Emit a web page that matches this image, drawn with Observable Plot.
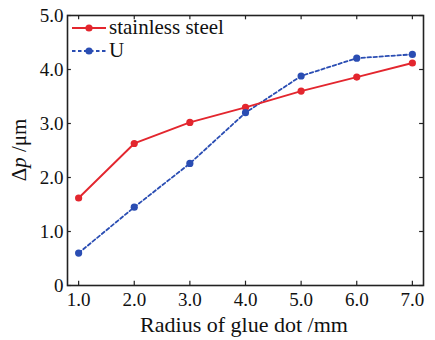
<!DOCTYPE html>
<html><head><meta charset="utf-8">
<script src="https://cdn.jsdelivr.net/npm/d3@7"></script>
<script src="https://cdn.jsdelivr.net/npm/@observablehq/plot@0.6"></script>
<style>
body{margin:0;background:#fff;}
#wrap{position:relative;width:435px;height:340px;font-family:"Liberation Serif",serif;}
#legend{position:absolute;left:72px;top:16px;font-size:21px;color:#111;line-height:23px;}
#legend div{display:flex;align-items:center;}
#legend svg{margin-right:3px;}
</style></head>
<body><div id="wrap"><div id="legend"></div></div>
<script>
const radius = [1.0, 2.0, 3.0, 4.0, 5.0, 6.0, 7.0];
const stainless = [1.62, 2.63, 3.02, 3.30, 3.60, 3.86, 4.12];
const uSeries = [0.60, 1.45, 2.26, 3.20, 3.88, 4.21, 4.28];
const seriesNames = ["stainless steel", "U"];
const xTicks = [1, 2, 3, 4, 5, 6, 7];
const yTicks = [0, 1, 2, 3, 4, 5];
const colors = ["#e3262e", "#2a4db3"];

const data = [];
radius.forEach((r, i) => {
  data.push({series: seriesNames[0], x: r, y: stainless[i]});
  data.push({series: seriesNames[1], x: r, y: uSeries[i]});
});
const xDom = [0.8, 7.2], yDom = [0, 5];
const fmtY = d => d === 0 ? "0" : d.toFixed(1);

const plot = Plot.plot({
  width: 435, height: 340,
  marginLeft: 67, marginRight: 12, marginTop: 15, marginBottom: 55,
  style: {fontFamily: "Liberation Serif", fontSize: "19px", color: "#111", background: "transparent"},
  x: {domain: xDom, ticks: xTicks, tickFormat: d => d.toFixed(1), label: null},
  y: {domain: yDom, ticks: yTicks, tickFormat: fmtY, label: null},
  color: {domain: seriesNames, range: colors},
  marks: [
    Plot.axisX({ticks: xTicks, tickSize: 0, tickPadding: 7, tickFormat: d => d.toFixed(1), fontSize: 19}),
    Plot.axisY({ticks: yTicks, tickSize: 0, tickPadding: 4, tickFormat: fmtY, fontSize: 19}),
    Plot.ruleX(xTicks, {y1: 0, y2: 0.08, stroke: "#222", strokeWidth: 1.2}),
    Plot.ruleX(xTicks, {y1: 5, y2: 4.92, stroke: "#222", strokeWidth: 1.2}),
    Plot.ruleY(yTicks, {x1: 0.8, x2: 0.87, stroke: "#222", strokeWidth: 1.2}),
    Plot.ruleY(yTicks, {x1: 7.2, x2: 7.13, stroke: "#222", strokeWidth: 1.2}),
    Plot.line(data.filter(d => d.series === seriesNames[1]), {x: "x", y: "y", stroke: colors[1], strokeWidth: 1.8, strokeDasharray: "3.5 2.5"}),
    Plot.line(data.filter(d => d.series === seriesNames[0]), {x: "x", y: "y", stroke: colors[0], strokeWidth: 1.9}),
    Plot.dot(data, {x: "x", y: "y", fill: "series", r: 3.6, stroke: "none"}),
    Plot.frame({stroke: "#222", strokeWidth: 1.6})
  ]
});
const wrap = document.getElementById("wrap");
wrap.insertBefore(plot, wrap.firstChild);

const svg = d3.select(plot);
svg.append("text").attr("x", 244).attr("y", 332).attr("text-anchor", "middle")
  .style("font-size", "22px").style("fill", "#111").text("Radius of glue dot /mm");
const yl = svg.append("text").attr("transform", "translate(26,150) rotate(-90)").attr("text-anchor", "middle")
  .style("font-size", "21px").style("fill", "#111");
yl.append("tspan").text("Δ");
yl.append("tspan").style("font-style", "italic").text("p");
yl.append("tspan").text(" /μm");

const legend = d3.select("#legend");
seriesNames.forEach((name, i) => {
  const row = legend.append("div");
  const s = row.append("svg").attr("width", 34).attr("height", 12);
  s.append("line").attr("x1", 0).attr("x2", 34).attr("y1", 6).attr("y2", 6)
    .attr("stroke", colors[i]).attr("stroke-width", 1.8)
    .attr("stroke-dasharray", i === 1 ? "3.5 2.5" : null);
  s.append("circle").attr("cx", 17).attr("cy", 6).attr("r", 3.6).attr("fill", colors[i]);
  row.append("span").text(name);
});
</script></body></html>
